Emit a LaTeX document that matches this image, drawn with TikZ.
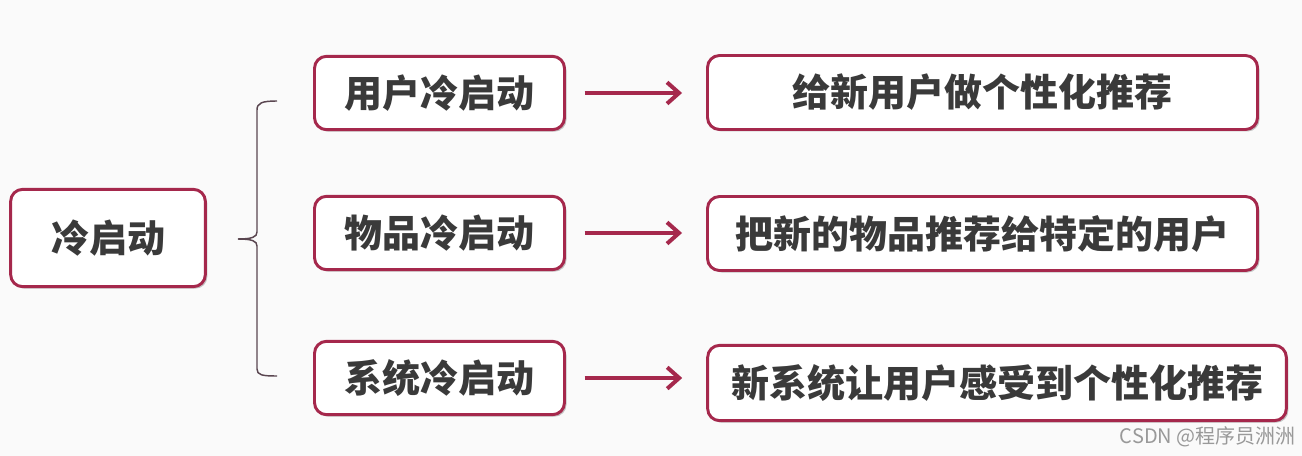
\documentclass[tikz,border=0pt]{standalone}
\usepackage{fontspec}
\usepackage{xcolor}
\newfontfamily\cjk{Noto Sans CJK SC}
\usepackage{tikz}
\usetikzlibrary{arrows.meta,positioning,calc,shadows}
\definecolor{crim}{HTML}{A5284C}
\definecolor{txt}{HTML}{3A3A3A}
\definecolor{brk}{HTML}{5A4650}
\begin{document}
\begin{tikzpicture}[x=0.75pt,y=-0.75pt,
  cbox/.style={draw=crim,line width=2.2pt,rounded corners=9pt,fill=white,text=txt,
    font=\cjk\bfseries\fontsize{28.5}{30}\selectfont,inner sep=0pt,
    drop shadow={shadow xshift=1.5pt,shadow yshift=-1.5pt,opacity=0.22,fill=black}},
  arr/.style={draw=crim,line width=3pt,-{Straight Barb[length=9pt,width=16pt,line width=3pt]},shorten <=14pt,shorten >=18pt},
  brace/.style={draw=brk,line width=1.1pt}]
\fill[black!2] (0,0) rectangle (1302,456); \useasboundingbox (0,0) rectangle (1302,456);
\node[cbox,minimum width=146pt,minimum height=73pt] (cold) at (108,238) {冷启动};
\node[cbox,minimum width=187.5pt,minimum height=55pt] (user) at (439.5,93) {用户冷启动};
\node[cbox,minimum width=187.5pt,minimum height=55pt] (item) at (439.5,233) {物品冷启动};
\node[cbox,minimum width=187.5pt,minimum height=55pt] (sys) at (439.5,378) {系统冷启动};
\node[cbox,minimum width=412.5pt,minimum height=55.5pt] (userR) at (982.5,92.5) {给新用户做个性化推荐};
\node[cbox,minimum width=412.5pt,minimum height=55.5pt] (itemR) at (982.5,233.5) {把新的物品推荐给特定的用户};
\node[cbox,minimum width=434pt,minimum height=56.5pt] (sysR) at (997,383) {新系统让用户感受到个性化推荐};
\draw[arr] (user.east) -- (user.east -| userR.west); \draw[arr] (item.east) -- (item.east -| itemR.west);
\draw[arr] (sys.east) -- (sys.east -| sysR.west);
% bracket
\coordinate (bTop) at (277,101); \coordinate (bMid) at (238,239); \coordinate (bBot) at (277,376);
\draw[brace] (bTop) .. controls (262,101) and (257,103) .. (257,110) -- (257,232) .. controls (257,237) and (252,239) .. (bMid);
\draw[brace] (bMid) .. controls (252,239) and (257,241) .. (257,246) -- (257,369) .. controls (257,375) and (262,376) .. (bBot);
\node[anchor=east,font=\cjk\fontsize{15}{16}\selectfont,text=black!40,inner sep=0pt] (mark) at (1296,437) {CSDN @程序员洲洲};
\end{tikzpicture}
\end{document}
